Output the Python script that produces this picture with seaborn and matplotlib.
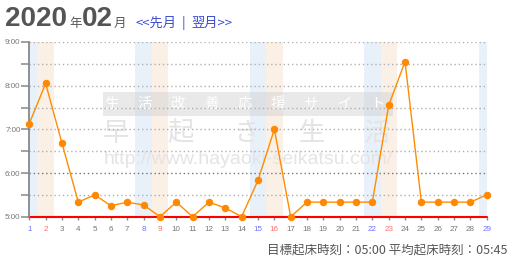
import matplotlib
matplotlib.use("Agg")
import matplotlib.pyplot as plt
import seaborn as sns
import numpy as np
from matplotlib.patches import Rectangle
from matplotlib.ticker import MultipleLocator

# ---- data ----
days = list(range(1, 30))
wake_times = ["7:08", "8:03", "6:41", "5:20", "5:30", "5:15", "5:20", "5:16", "5:00", "5:20",
              "5:00", "5:20", "5:12", "5:00", "5:50", "7:00", "5:00", "5:20", "5:20", "5:20",
              "5:20", "5:20", "7:33", "8:33", "5:20", "5:20", "5:20", "5:20", "5:30"]
saturdays = [1, 8, 15, 22, 29]
sundays = [2, 9, 16, 23]
y_labels = ["5:00", "6:00", "7:00", "8:00", "9:00"]
target_hour = 5.0
title_year = "2020"
title_month = "02"
nav_prev = "<<先月"
nav_sep = "|"
nav_next = "翌月>>"
footer = "目標起床時刻：05:00 平均起床時刻：05:45"

hours = [int(t.split(":")[0]) + int(t.split(":")[1]) / 60 for t in wake_times]

sns.set_style("white")
plt.rcParams["font.family"] = ["Noto Sans CJK JP", "DejaVu Sans"]

W, H = 517, 263
fig = plt.figure(figsize=(W / 100, H / 100), dpi=100)
ax = fig.add_axes([29.3 / W, 1 - 216.7 / H, 457.4 / W, 174.7 / H])

# weekend bands
for d in saturdays:
    ax.axvspan(d - 0.5, d + 0.5, color="#e8f0fa", lw=0, zorder=0)
for d in sundays:
    ax.axvspan(d - 0.5, d + 0.5, color="#faf0e6", lw=0, zorder=0)

# watermark
ax.add_patch(Rectangle((0.1618, 0.578), 0.634, 0.134, transform=ax.transAxes,
                       facecolor="#d4d4d4", alpha=0.5, lw=0, zorder=0.5))
band_chars = list("生活改善応援サイト")
for i, c in enumerate(band_chars):
    px = 111.5 + i * 33.3
    ax.text((px - 29.3) / 457.4, 0.645, c, transform=ax.transAxes, ha="center",
            va="center", fontsize=10.5, color="#ffffff", zorder=0.6)
big_chars = list("早起き生活")
for i, c in enumerate(big_chars):
    px = 115.5 + i * 65.5
    ax.text((px - 29.3) / 457.4, 0.479, c, transform=ax.transAxes, ha="center",
            va="center", fontsize=19, color="#e4e4e4", zorder=0.6)
ax.text(0.4785, 0.325, "http://www.hayaoki-seikatsu.com/", transform=ax.transAxes,
        ha="center", va="center", fontsize=14, color="#e4e4e4",
        family="Liberation Sans", zorder=0.6)

# grid lines every 30 min
for yv in np.arange(5.5, 9.01, 0.5):
    col = "#777777" if abs(yv - 6.0) < 1e-6 else "#b0b0b0"
    ax.axhline(yv, color=col, lw=1.0, ls=(0, (1, 2)), zorder=1)

# target line
ax.axhline(target_hour, color="#ff0000", lw=1.5, zorder=2, clip_on=False)

# data line
sns.lineplot(x=days, y=hours, ax=ax, color="#ff8c00", lw=1.0, marker="o",
             markersize=4.6, markeredgecolor="#ff8800", markerfacecolor="#ff8800",
             clip_on=False, zorder=3)

ax.set_xlim(1, 29)
ax.set_ylim(5, 9)
ax.set_xlabel("")
ax.set_ylabel("")

for s in ["top", "right", "bottom"]:
    ax.spines[s].set_visible(False)
ax.spines["left"].set_color("#888888")
ax.spines["left"].set_linewidth(1.3)

ax.set_yticks([5, 6, 7, 8, 9])
ax.set_yticklabels(y_labels)
ax.yaxis.set_minor_locator(MultipleLocator(0.5))
ax.tick_params(axis="y", which="both", direction="out", length=5.5, width=1.1,
               color="#888888", left=True, pad=0.8, labelsize=5.8, labelcolor="#777777")
ax.set_xticks(days)
ax.set_xticklabels([str(d) for d in days])
ax.tick_params(axis="x", direction="out", length=2.5, width=1.0, color="#888888",
               bottom=True, pad=4.5, labelsize=5.8)
for lab, d in zip(ax.get_xticklabels(), days):
    lab.set_family("Liberation Sans")
    if d in saturdays:
        lab.set_color("#6f6fff")
    elif d in sundays:
        lab.set_color("#ff6f6f")
    else:
        lab.set_color("#777777")
for lab in ax.get_yticklabels():
    lab.set_family("Liberation Sans")

# title
by = 1 - 26.5 / H
fig.text(5 / W, by, title_year, fontsize=20, fontweight="bold", color="#555555",
         family="Liberation Sans", va="baseline")
fig.text(69 / W, by, "年", fontsize=9, color="#555555", va="baseline")
fig.text(82 / W, by, title_month, fontsize=20, fontweight="bold", color="#555555",
         family="Liberation Sans", va="baseline")
fig.text(113.5 / W, by, "月", fontsize=9, color="#555555", va="baseline")
fig.text(135 / W, by, nav_prev, fontsize=9.5, color="#3a4bd0", va="baseline")
fig.text(182 / W, by, nav_sep, fontsize=9.5, color="#3a4bd0", va="baseline")
fig.text(191 / W, by, nav_next, fontsize=9.5, color="#3a4bd0", va="baseline")

# footer
fig.text(508 / W, 1 - 254 / H, footer, fontsize=9, color="#555555", ha="right",
         va="baseline")

fig.savefig("out.png", dpi=100)
